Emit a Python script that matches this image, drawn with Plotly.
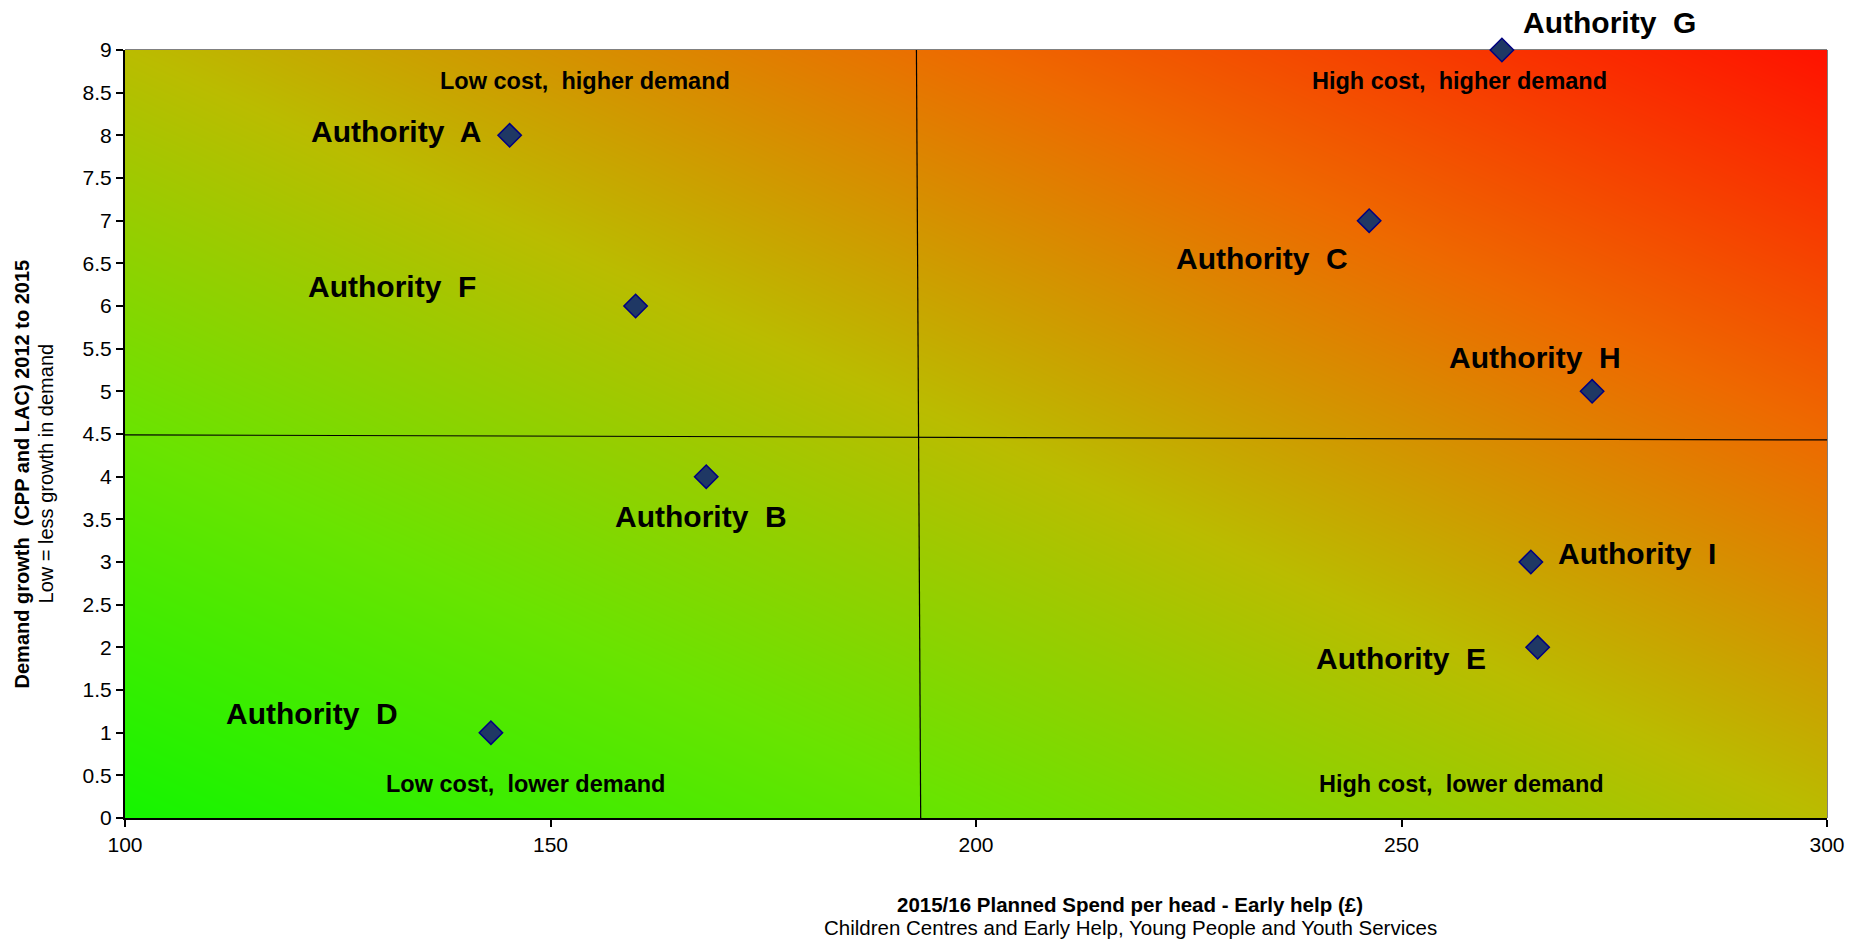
import numpy as np
import plotly.graph_objects as go

# ---- data ----
authorities = ["Authority\u00a0 A", "Authority\u00a0 B", "Authority\u00a0 C", "Authority\u00a0 D",
               "Authority\u00a0 E", "Authority\u00a0 F", "Authority\u00a0 G", "Authority\u00a0 H",
               "Authority\u00a0 I"]
spend = [145.2, 168.3, 246.2, 143.0, 266.0, 160.0, 261.8, 272.4, 265.2]
demand = [8, 4, 7, 1, 2, 6, 9, 5, 3]

# label placement (pixel offsets from the point) – styling only
label_anchor = ["right", "center", "right", "right", "right", "right", "left", "center", "left"]
label_dx = [-26, -5, -19, -91, -50, -158, 19, -57, 25]
label_dy = [4, -40, -38, 19, -11, 20, 28, 34, 9]

# quadrant divider lines (as drawn in the source chart)
vline_x = [193.0, 193.5]
vline_y = [9, 0]
hline_x = [100, 300]
hline_y = [4.49, 4.43]

quadrant_text = ["Low cost,\u00a0 higher demand", "High cost,\u00a0 higher demand",
                 "Low cost,\u00a0 lower demand", "High cost,\u00a0 lower demand"]
quadrant_x = [154.0, 256.8, 147.1, 257.0]
quadrant_y = [8.64, 8.64, 0.40, 0.40]

x_ticks = [100, 150, 200, 250, 300]
y_ticks = [i * 0.5 for i in range(19)]

FONT = "Liberation Sans, Arial, sans-serif"
W, H = 1859, 940
ML, MR, MT, MB = 124.5, 32, 50, 122
PW = W - ML - MR

fig = go.Figure()

# background diagonal gradient (green bottom-left -> red top-right)
gx = np.linspace(100, 300, 61)
gy = np.linspace(0, 9, 31)
GX, GY = np.meshgrid(gx, gy)
gz = ((GX - 100) / 200 + GY / 9) / 2
fig.add_trace(go.Heatmap(
    x=gx, y=gy, z=gz, zsmooth="best", showscale=False, hoverinfo="skip",
    zmin=0, zmax=1,
    colorscale=[[0, "rgb(20,245,0)"], [0.25, "rgb(105,228,0)"], [0.5, "rgb(186,188,0)"],
                [0.75, "rgb(238,105,0)"], [1, "rgb(255,18,0)"]],
))

# quadrant lines
fig.add_trace(go.Scatter(x=vline_x, y=vline_y, mode="lines",
                         line=dict(color="black", width=1.2), hoverinfo="skip", showlegend=False))
fig.add_trace(go.Scatter(x=hline_x, y=hline_y, mode="lines",
                         line=dict(color="black", width=1.2), hoverinfo="skip", showlegend=False))

# points
fig.add_trace(go.Scatter(
    x=spend, y=demand, mode="markers", text=authorities, cliponaxis=False,
    marker=dict(symbol="diamond", size=18, color="#1F3864",
                line=dict(color="#000080", width=1.5)),
    showlegend=False,
))

annotations = []
for name, xv, yv, anc, dx, dy in zip(authorities, spend, demand, label_anchor, label_dx, label_dy):
    annotations.append(dict(
        x=xv, y=yv, xref="x", yref="y", text=f"<b>{name}</b>", showarrow=False,
        xanchor=anc, yanchor="middle", xshift=dx, yshift=dy,
        font=dict(family=FONT, size=30, color="black"),
    ))
for t, xv, yv in zip(quadrant_text, quadrant_x, quadrant_y):
    annotations.append(dict(
        x=xv, y=yv, xref="x", yref="y", text=f"<b>{t}</b>", showarrow=False,
        xanchor="center", yanchor="middle",
        font=dict(family=FONT, size=23.5, color="black"),
    ))

# axis titles
XT = (1130 - ML) / PW
annotations += [
    dict(x=XT, y=-0.113, xref="paper", yref="paper", showarrow=False,
         text="<b>2015/16 Planned Spend per head - Early help (£)</b>",
         font=dict(family=FONT, size=20.5, color="black"), xanchor="center", yanchor="middle"),
    dict(x=XT, y=-0.143, xref="paper", yref="paper", showarrow=False,
         text="Children Centres and Early Help, Young People and Youth Services",
         font=dict(family=FONT, size=20.5, color="black"), xanchor="center", yanchor="middle"),
    dict(x=(21 - ML) / PW, y=0.448, xref="paper", yref="paper", showarrow=False,
         text="<b>Demand growth\u00a0 (CPP and LAC) 2012 to 2015</b>", textangle=-90,
         font=dict(family=FONT, size=20, color="black"), xanchor="center", yanchor="middle"),
    dict(x=(45 - ML) / PW, y=0.448, xref="paper", yref="paper", showarrow=False,
         text="Low = less growth in demand", textangle=-90,
         font=dict(family=FONT, size=20, color="black"), xanchor="center", yanchor="middle"),
]

fig.update_layout(
    width=W, height=H,
    margin=dict(l=ML, r=MR, t=MT, b=MB),
    paper_bgcolor="white", plot_bgcolor="white",
    showlegend=False,
    annotations=annotations,
    font=dict(family=FONT, size=18, color="black"),
    shapes=[
        dict(type="line", xref="paper", yref="paper", x0=0, x1=1, y0=1, y1=1,
             line=dict(color="#808080", width=2), layer="below"),
        dict(type="line", xref="paper", yref="paper", x0=1, x1=1, y0=0, y1=1,
             line=dict(color="#808080", width=2), layer="below"),
    ],
    xaxis=dict(range=[100, 300], tickvals=x_ticks, ticktext=[str(v) for v in x_ticks],
               showgrid=False, zeroline=False, showline=True, linecolor="black", linewidth=2,
               ticks="outside", ticklen=7, tickcolor="black", tickwidth=1.5,
               tickfont=dict(family=FONT, size=21, color="black")),
    yaxis=dict(range=[0, 9], tickvals=y_ticks, ticktext=[f"{v:g}" for v in y_ticks],
               showgrid=False, zeroline=False, showline=True, linecolor="black", linewidth=2,
               ticks="outside", ticklen=7, tickcolor="black", tickwidth=1.5,
               tickfont=dict(family=FONT, size=21, color="black")),
)

fig.write_html("out.html", config={"displayModeBar": False},
               post_script="document.body.style.margin='0';document.body.style.overflow='hidden';")
